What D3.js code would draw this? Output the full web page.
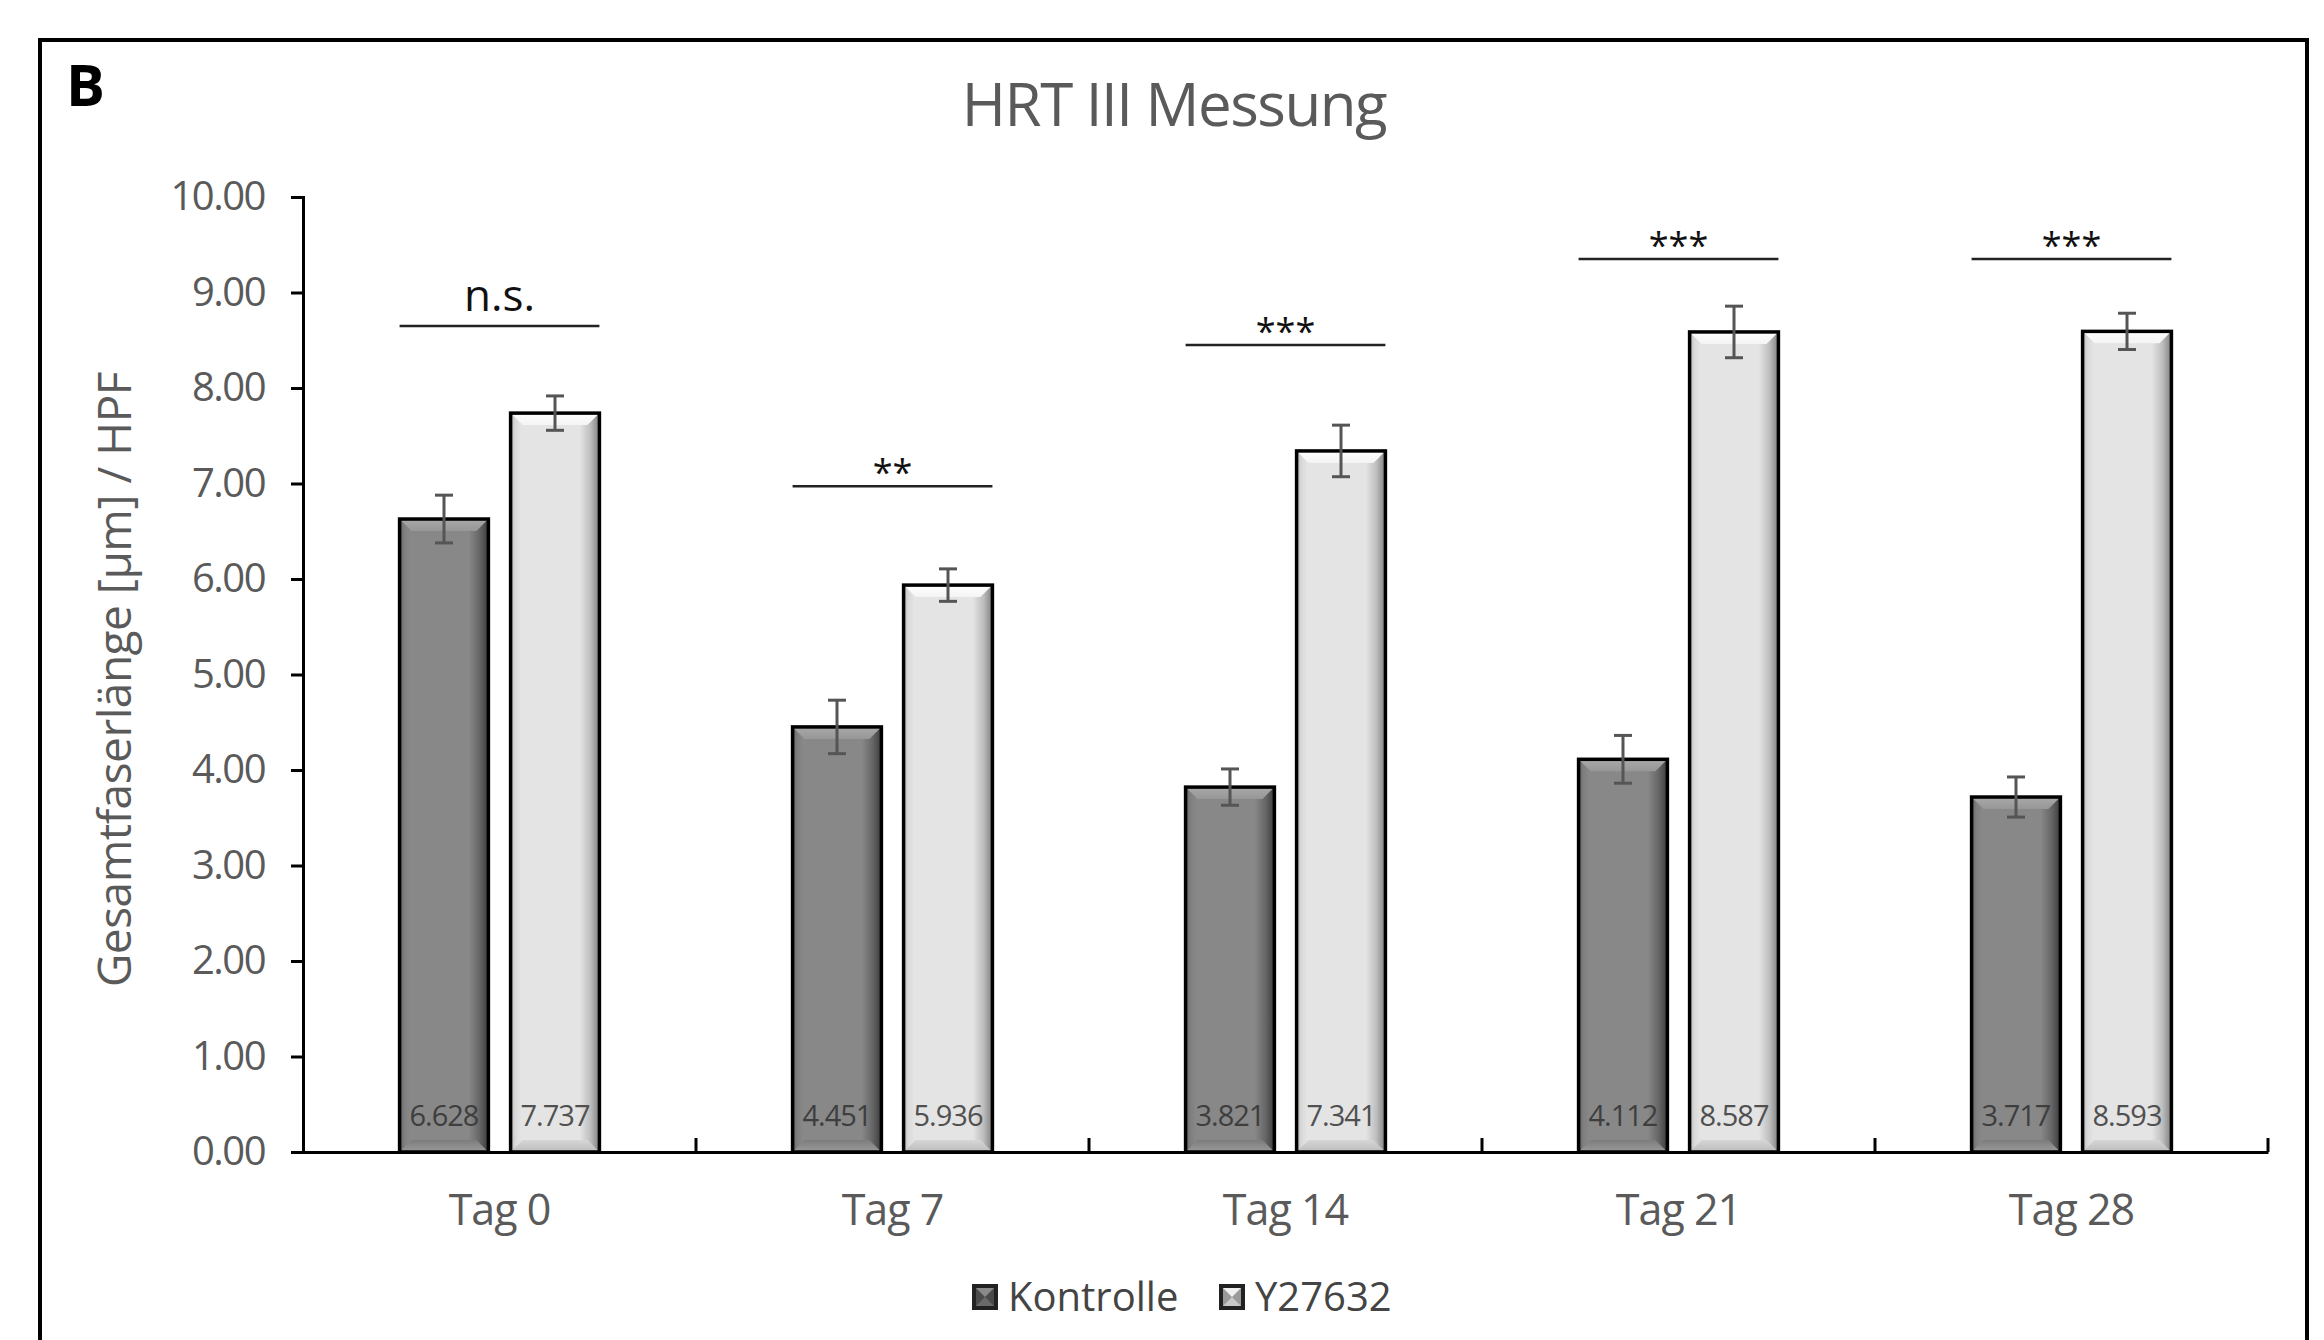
<!DOCTYPE html>
<html>
<head>
<meta charset="utf-8">
<script src="https://cdn.jsdelivr.net/npm/d3@7"></script>
<style>
  html, body { margin: 0; padding: 0; background: #ffffff; }
  svg { display: block; }
  text { font-family: "Open Sans", "Noto Sans", "DejaVu Sans", sans-serif; }
</style>
</head>
<body>
<svg id="chart" width="2324" height="1340"></svg>
<script>
// ---------------- data ----------------
const categories = ["Tag 0", "Tag 7", "Tag 14", "Tag 21", "Tag 28"];
const seriesNames = ["Kontrolle", "Y27632"];
const kontrolle = [6.628, 4.451, 3.821, 4.112, 3.717];
const y27632 = [7.737, 5.936, 7.341, 8.587, 8.593];
const kontrolleErr = [0.25, 0.28, 0.19, 0.25, 0.21];
const y27632Err = [0.18, 0.17, 0.27, 0.27, 0.19];
const sigLabels = ["n.s.", "**", "***", "***", "***"];
const sigLevels = [8.65, 6.97, 8.45, 9.35, 9.35];
const yTicks = [0, 1, 2, 3, 4, 5, 6, 7, 8, 9, 10];
const chartTitle = "HRT III Messung";
const yTitle = "Gesamtfaserlänge [µm] / HPF";
const panelLetter = "B";

// ---------------- layout ----------------
const plot = { left: 303, right: 2268, top: 197, bottom: 1152 };
const svg = d3.select("#chart");

const valuesBySeries = [kontrolle, y27632];
const errBySeries = [kontrolleErr, y27632Err];
const rows = [];
categories.forEach((c, i) => {
  seriesNames.forEach((s, j) => {
    rows.push({ cat: c, series: s, si: j, value: valuesBySeries[j][i], err: errBySeries[j][i] });
  });
});

const x0 = d3.scaleBand().domain(categories).range([plot.left, plot.right]).padding(0);
const x1 = d3.scaleBand().domain(seriesNames).range([0, x0.bandwidth()]).paddingInner(0.2).paddingOuter(0.87);
const y = d3.scaleLinear().domain([0, 10]).range([plot.bottom, plot.top]);

// ---------------- gradients ----------------
const defs = svg.append("defs");
function hGrad(id, stops) {
  const g = defs.append("linearGradient").attr("id", id).attr("x1", "0").attr("x2", "1").attr("y1", "0").attr("y2", "0");
  stops.forEach(s => g.append("stop").attr("offset", s[0]).attr("stop-color", s[1]));
}
function vGrad(id, stops) {
  const g = defs.append("linearGradient").attr("id", id).attr("x1", "0").attr("x2", "0").attr("y1", "0").attr("y2", "1");
  stops.forEach(s => g.append("stop").attr("offset", s[0]).attr("stop-color", s[1]));
}
hGrad("bodyK", [[0, "#5e5e5e"], [0.05, "#7e7e7e"], [0.12, "#888888"], [0.78, "#888888"], [0.9, "#666666"], [1, "#3c3c3c"]]);
hGrad("bodyY", [[0, "#b4b4b4"], [0.05, "#d8d8d8"], [0.12, "#e4e4e4"], [0.78, "#e4e4e4"], [0.9, "#bdbdbd"], [1, "#808080"]]);
vGrad("topK", [[0, "#a9a9a9"], [1, "#979797"]]);
vGrad("topY", [[0, "#ffffff"], [1, "#f4f4f4"]]);
vGrad("botK", [[0, "#7c7c7c"], [1, "#9a9a9a"]]);
vGrad("botY", [[0, "#d6d6d6"], [1, "#bcbcbc"]]);

const bodyFill = ["url(#bodyK)", "url(#bodyY)"];
const topFill = ["url(#topK)", "url(#topY)"];
const botFill = ["url(#botK)", "url(#botY)"];

// ---------------- frame ----------------
svg.append("rect").attr("x", 40).attr("y", 40).attr("width", 2267).attr("height", 1360)
  .attr("fill", "none").attr("stroke", "#000").attr("stroke-width", 4);

svg.append("text").attr("x", 66).attr("y", 106).attr("font-size", 58).attr("font-weight", 700)
  .attr("fill", "#000").text(panelLetter);

svg.append("text").attr("x", 1174).attr("y", 126).attr("text-anchor", "middle")
  .attr("font-size", 60).attr("font-weight", 500).attr("fill", "#5a5a5a").attr("letter-spacing", -1.5)
  .text(chartTitle);

// ---------------- bars ----------------
const bev = 12;
const barG = svg.append("g");
rows.forEach(d => {
  const bx = x0(d.cat) + x1(d.series);
  const bw = x1.bandwidth();
  const by = y(d.value);
  const bh = y(0) - by;
  const g = barG.append("g");
  g.append("rect").attr("x", bx).attr("y", by).attr("width", bw).attr("height", bh).attr("fill", bodyFill[d.si]);
  g.append("polygon").attr("points", [[bx, by], [bx + bw, by], [bx + bw - bev, by + bev], [bx + bev, by + bev]].map(p => p.join(",")).join(" "))
    .attr("fill", topFill[d.si]);
  g.append("polygon").attr("points", [[bx, by + bh], [bx + bw, by + bh], [bx + bw - bev, by + bh - bev], [bx + bev, by + bh - bev]].map(p => p.join(",")).join(" "))
    .attr("fill", botFill[d.si]);
  g.append("rect").attr("x", bx).attr("y", by).attr("width", bw).attr("height", bh)
    .attr("fill", "none").attr("stroke", "#000").attr("stroke-width", 3.5);
  // value label
  g.append("text").attr("x", bx + bw / 2).attr("y", y(0) - 26).attr("text-anchor", "middle")
    .attr("font-size", 29).attr("fill", d.si === 0 ? "#3e3e3e" : "#505050").attr("letter-spacing", -1)
    .text(d3.format(".3f")(d.value));
});

// ---------------- error bars ----------------
const errG = svg.append("g").attr("stroke", "#555555").attr("stroke-width", 3);
rows.forEach(d => {
  const cx = x0(d.cat) + x1(d.series) + x1.bandwidth() / 2;
  const yt = y(d.value + d.err), yb = y(d.value - d.err);
  errG.append("line").attr("x1", cx).attr("x2", cx).attr("y1", yt).attr("y2", yb);
  errG.append("line").attr("x1", cx - 9).attr("x2", cx + 9).attr("y1", yt).attr("y2", yt);
  errG.append("line").attr("x1", cx - 9).attr("x2", cx + 9).attr("y1", yb).attr("y2", yb);
});

// ---------------- axes ----------------
const yAxis = svg.append("g").attr("transform", `translate(${plot.left},0)`)
  .call(d3.axisLeft(y).tickValues(yTicks).tickFormat(d3.format(".2f")).tickSize(12).tickSizeOuter(12).tickPadding(26));
yAxis.select(".domain").attr("stroke", "#000").attr("stroke-width", 3);
yAxis.selectAll(".tick line").attr("stroke", "#000").attr("stroke-width", 3);
yAxis.selectAll(".tick text").attr("font-size", 40).attr("fill", "#5a5a5a").attr("font-family", "'Open Sans', sans-serif")
  .attr("letter-spacing", -1.5);

const xAxis = svg.append("g").attr("transform", `translate(0,${plot.bottom})`)
  .call(d3.axisBottom(x0).tickSize(0).tickSizeOuter(0));
xAxis.select(".domain").attr("stroke", "#000").attr("stroke-width", 3);
xAxis.selectAll(".tick text").attr("font-size", 43).attr("fill", "#5a5a5a").attr("font-family", "'Open Sans', sans-serif")
  .attr("y", 73).attr("dy", 0).attr("letter-spacing", -1);
// boundary ticks (pointing up)
categories.forEach(c => {
  const bxr = x0(c) + x0.bandwidth();
  svg.append("line").attr("x1", bxr).attr("x2", bxr).attr("y1", plot.bottom).attr("y2", plot.bottom - 14)
    .attr("stroke", "#000").attr("stroke-width", 3);
});

// y title
svg.append("text").attr("transform", `translate(131,${(plot.top + plot.bottom) / 2 + 5}) rotate(-90)`)
  .attr("text-anchor", "middle").attr("font-size", 46).attr("fill", "#5a5a5a").attr("letter-spacing", -0.5).text(yTitle);

// ---------------- significance ----------------
const sigG = svg.append("g");
categories.forEach((c, i) => {
  const xl = x0(c) + x1(seriesNames[0]);
  const xr = x0(c) + x1(seriesNames[1]) + x1.bandwidth();
  const ly = y(sigLevels[i]);
  sigG.append("line").attr("x1", xl).attr("x2", xr).attr("y1", ly).attr("y2", ly)
    .attr("stroke", "#222").attr("stroke-width", 2.5);
  const isStar = sigLabels[i].indexOf("*") >= 0;
  sigG.append("text").attr("x", (xl + xr) / 2).attr("y", isStar ? ly - 1 : ly - 15)
    .attr("text-anchor", "middle").attr("font-size", isStar ? 36 : 44).attr("fill", "#111")
    .text(sigLabels[i]);
});

// ---------------- legend ----------------
const legend = svg.append("g");
const legendItems = [
  { name: seriesNames[0], x: 972, si: 0 },
  { name: seriesNames[1], x: 1219, si: 1 }
];
const legInner = [["#8a8a8a", "#4a4a4a"], ["#f0f0f0", "#9a9a9a"]];
legendItems.forEach(it => {
  const g = legend.append("g").attr("transform", `translate(${it.x},1284)`);
  g.append("rect").attr("x", 0).attr("y", 0).attr("width", 26).attr("height", 26).attr("fill", "#222");
  g.append("rect").attr("x", 4).attr("y", 4).attr("width", 18).attr("height", 18).attr("fill", legInner[it.si][1]);
  g.append("polygon").attr("points", "4,4 22,4 13,13").attr("fill", legInner[it.si][0]);
  g.append("polygon").attr("points", "4,22 22,22 13,13").attr("fill", it.si === 0 ? "#6a6a6a" : "#c8c8c8");
  g.append("text").attr("x", 36).attr("y", 27).attr("font-size", 40).attr("fill", "#444").text(it.name);
});
</script>
</body>
</html>
